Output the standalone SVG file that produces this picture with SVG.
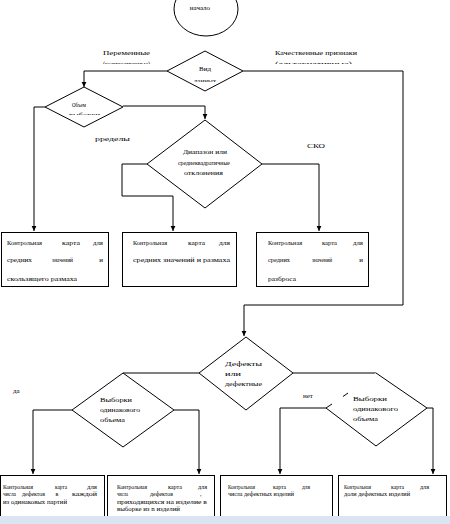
<svg xmlns="http://www.w3.org/2000/svg" width="450" height="524" viewBox="0 0 450 524">
<style>
text{font-family:"Liberation Serif","DejaVu Serif","Times New Roman",serif;font-size:7px;fill:#000}
text.s{font-size:6.2px}
.sh{fill:#fff;stroke:#000;stroke-width:1}
.ln{fill:none;stroke:#000;stroke-width:1}
</style>
<defs>
<marker id="ar" markerWidth="6" markerHeight="6" refX="5" refY="3" orient="auto" markerUnits="userSpaceOnUse">
<path d="M0,0.6 L5,3 L0,5.4 Z" fill="#000"/>
</marker>
<clipPath id="cL"><rect x="90" y="40" width="80" height="24"/></clipPath>
<clipPath id="cR"><rect x="270" y="40" width="100" height="24"/></clipPath>
<clipPath id="cV"><rect x="180" y="55" width="50" height="27"/></clipPath>
<clipPath id="cO"><rect x="60" y="95" width="50" height="20"/></clipPath>
<clipPath id="cD"><rect x="215" y="355" width="60" height="36"/></clipPath>
</defs>
<rect width="450" height="524" fill="#fff"/>

<g id="connectors">
<path class="ln" d="M167,71 H84 V87" marker-end="url(#ar)"/>
<path class="ln" d="M243,71 H403 V305 H244 V336" marker-end="url(#ar)"/>
<path class="ln" d="M45,107 H34 V231" marker-end="url(#ar)"/>
<path class="ln" d="M123,106 H205 V119" marker-end="url(#ar)"/>
<path class="ln" d="M147,164 H122 V196 H173 V231" marker-end="url(#ar)"/>
<path class="ln" d="M262,164 H319 V231" marker-end="url(#ar)"/>
<path class="ln" d="M199,373 H123"/>
<path class="ln" d="M293,373 H376"/>
<path class="ln" d="M72,410 H33 V474" marker-end="url(#ar)"/>
<path class="ln" d="M174,410 H199 V474" marker-end="url(#ar)"/>
<path class="ln" d="M326,408 H280 V474" marker-end="url(#ar)"/>
<path class="ln" d="M427,408 H433 V474" marker-end="url(#ar)"/>
</g>

<g id="labels">
<g clip-path="url(#cL)">
<text x="103" y="55" textLength="47" lengthAdjust="spacingAndGlyphs">Переменные</text>
<text x="103" y="65.5" textLength="47" lengthAdjust="spacingAndGlyphs">(количественные)</text>
</g>
<g clip-path="url(#cR)">
<text x="275" y="55" textLength="82" lengthAdjust="spacingAndGlyphs">Качественные признаки</text>
<text x="275" y="65.5" textLength="77" lengthAdjust="spacingAndGlyphs">(альтернативные)</text>
</g>
<text x="95" y="141" textLength="35" lengthAdjust="spacingAndGlyphs">рределы</text>
<text x="307" y="148" textLength="18" lengthAdjust="spacingAndGlyphs">СКО</text>
<text x="13" y="393">да</text>
<text x="303" y="398">нет</text>
</g>

<g id="start">
<ellipse class="sh" cx="206" cy="9" rx="32" ry="27"/>
<text x="200" y="10" text-anchor="middle">начало</text>
</g>

<g id="d-type">
<path class="sh" d="M205,51 L243,71 L205,91 L167,71 Z"/>
<g clip-path="url(#cV)">
<text x="205" y="71" text-anchor="middle">Вид</text>
<text x="205" y="83" text-anchor="middle">данных</text>
</g>
</g>

<g id="d-volume">
<path class="sh" d="M84,87 L123,107 L84,127 L45,107 Z"/>
<g clip-path="url(#cO)">
<text x="72" y="106.5" textLength="14" lengthAdjust="spacingAndGlyphs">Объем</text>
<text x="69" y="117" textLength="31" lengthAdjust="spacingAndGlyphs">выборки</text>
</g>
</g>

<g id="d-range">
<path class="sh" d="M205,120 L262,164 L205,208 L147,164 Z"/>
<text x="183" y="154" textLength="44" lengthAdjust="spacingAndGlyphs">Диапазон или</text>
<text x="178" y="165" textLength="52" lengthAdjust="spacingAndGlyphs">среднеквадратичные</text>
<text x="184" y="175" textLength="39" lengthAdjust="spacingAndGlyphs">отклонения</text>
</g>

<g id="box-moving-range">
<rect class="sh" x="1.5" y="232.5" width="107" height="54"/>
<text x="7" y="245" textLength="35" lengthAdjust="spacingAndGlyphs">Контрольная</text>
<text x="62" y="245" textLength="18" lengthAdjust="spacingAndGlyphs">карта</text>
<text x="93" y="245" textLength="10" lengthAdjust="spacingAndGlyphs">для</text>
<text x="7" y="262" textLength="25" lengthAdjust="spacingAndGlyphs">средних</text>
<text x="52" y="262" textLength="21" lengthAdjust="spacingAndGlyphs">значений</text>
<text x="103" y="262" text-anchor="end">и</text>
<text x="7" y="281" textLength="70" lengthAdjust="spacingAndGlyphs">скользящего размаха</text>
</g>

<g id="box-range">
<rect class="sh" x="122.5" y="232.5" width="114" height="54"/>
<text x="133" y="245" textLength="34" lengthAdjust="spacingAndGlyphs">Контрольная</text>
<text x="188" y="245" textLength="17" lengthAdjust="spacingAndGlyphs">карта</text>
<text x="219" y="245" textLength="11" lengthAdjust="spacingAndGlyphs">для</text>
<text x="133" y="262" textLength="97" lengthAdjust="spacingAndGlyphs">средних значений и размаха</text>
</g>

<g id="box-sd">
<rect class="sh" x="256.5" y="232.5" width="112" height="54"/>
<text x="268" y="245" textLength="34" lengthAdjust="spacingAndGlyphs">Контрольная</text>
<text x="322" y="245" textLength="15" lengthAdjust="spacingAndGlyphs">карта</text>
<text x="353" y="245" textLength="10" lengthAdjust="spacingAndGlyphs">для</text>
<text x="268" y="262" textLength="22" lengthAdjust="spacingAndGlyphs">средних</text>
<text x="312" y="262" textLength="20" lengthAdjust="spacingAndGlyphs">значений</text>
<text x="363" y="262" text-anchor="end">и</text>
<text x="268" y="281" textLength="28" lengthAdjust="spacingAndGlyphs">разброса</text>
</g>

<g id="d-defects">
<path class="sh" d="M246,337 L293,373 L246,410 L199,373 Z"/>
<g clip-path="url(#cD)">
<text x="225" y="366" textLength="37" lengthAdjust="spacingAndGlyphs">Дефекты</text>
<text x="225" y="376" textLength="16" lengthAdjust="spacingAndGlyphs">или</text>
<text x="225" y="386" textLength="37" lengthAdjust="spacingAndGlyphs">дефектные</text>
<text x="225" y="393.5" textLength="19" lengthAdjust="spacingAndGlyphs">изделия</text>
</g>
</g>

<g id="d-equal-left">
<path class="sh" d="M123,373 L174,410 L123,447 L72,410 Z"/>
<text x="100" y="402" textLength="32" lengthAdjust="spacingAndGlyphs">Выборки</text>
<text x="100" y="412" textLength="40" lengthAdjust="spacingAndGlyphs">одинакового</text>
<text x="100" y="422" textLength="25" lengthAdjust="spacingAndGlyphs">объема</text>
</g>

<g id="d-equal-right">
<path fill="#fff" stroke="none" d="M376,373 L427,408 L376,446 L326,408 Z"/>
<path class="ln" d="M332,404 L326,408 L376,446 L427,408 L376,373 M348,393 L343,396.5"/>
<text x="353" y="401" textLength="34" lengthAdjust="spacingAndGlyphs">Выборки</text>
<text x="353" y="411" textLength="45" lengthAdjust="spacingAndGlyphs">одинакового</text>
<text x="353" y="421" textLength="25" lengthAdjust="spacingAndGlyphs">объема</text>
</g>

<g id="box-c">
<rect class="sh" x="0.5" y="475.5" width="104" height="50"/>
<text class="s" x="3" y="488.5" textLength="30" lengthAdjust="spacingAndGlyphs">Контрольная</text>
<text class="s" x="55" y="488.5" textLength="12" lengthAdjust="spacingAndGlyphs">карта</text>
<text class="s" x="87" y="488.5" textLength="10" lengthAdjust="spacingAndGlyphs">для</text>
<text class="s" x="3" y="496" textLength="13" lengthAdjust="spacingAndGlyphs">числа</text>
<text class="s" x="22" y="496" textLength="23" lengthAdjust="spacingAndGlyphs">дефектов</text>
<text class="s" x="57" y="496" text-anchor="middle">в</text>
<text class="s" x="72" y="496" textLength="25" lengthAdjust="spacingAndGlyphs">каждой</text>
<text class="s" x="3" y="503.5" textLength="64" lengthAdjust="spacingAndGlyphs">из одинаковых партий</text>
</g>

<g id="box-u">
<rect class="sh" x="107.5" y="475.5" width="107" height="50"/>
<text class="s" x="117" y="488.5" textLength="30" lengthAdjust="spacingAndGlyphs">Контрольная</text>
<text class="s" x="168" y="488.5" textLength="14" lengthAdjust="spacingAndGlyphs">карта</text>
<text class="s" x="198" y="488.5" textLength="9" lengthAdjust="spacingAndGlyphs">для</text>
<text class="s" x="117" y="496" textLength="11" lengthAdjust="spacingAndGlyphs">числа</text>
<text class="s" x="150" y="496" textLength="23" lengthAdjust="spacingAndGlyphs">дефектов</text>
<text class="s" x="200" y="496">,</text>
<text class="s" x="117" y="503.5" textLength="90" lengthAdjust="spacingAndGlyphs">приходящихся на изделие в</text>
<text class="s" x="117" y="511" textLength="63" lengthAdjust="spacingAndGlyphs">выборке из n изделий</text>
</g>

<g id="box-np">
<rect class="sh" x="220.5" y="475.5" width="112" height="50"/>
<text class="s" x="228" y="488.5" textLength="27" lengthAdjust="spacingAndGlyphs">Контрольная</text>
<text class="s" x="273" y="488.5" textLength="13" lengthAdjust="spacingAndGlyphs">карта</text>
<text class="s" x="302" y="488.5" textLength="8" lengthAdjust="spacingAndGlyphs">для</text>
<text class="s" x="228" y="496" textLength="66" lengthAdjust="spacingAndGlyphs">числа дефектных изделий</text>
</g>

<g id="box-p">
<rect class="sh" x="338.5" y="475.5" width="108" height="50"/>
<text class="s" x="344" y="488.5" textLength="27" lengthAdjust="spacingAndGlyphs">Контрольная</text>
<text class="s" x="391" y="488.5" textLength="13" lengthAdjust="spacingAndGlyphs">карта</text>
<text class="s" x="420" y="488.5" textLength="9" lengthAdjust="spacingAndGlyphs">для</text>
<text class="s" x="344" y="496" textLength="66" lengthAdjust="spacingAndGlyphs">доли дефектных изделий</text>
</g>

<rect x="0" y="516" width="450" height="8" fill="#d9e5f3"/>
</svg>
